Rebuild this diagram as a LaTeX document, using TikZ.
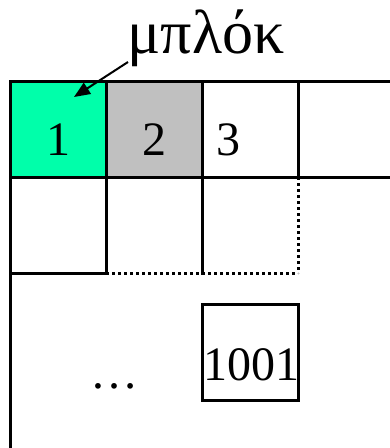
\documentclass[tikz,border=0pt]{standalone}
\usepackage{fontspec}
\setmainfont{Liberation Serif}
\usetikzlibrary{arrows.meta}
\definecolor{blockgreen}{RGB}{0,255,170}
\definecolor{blockgray}{RGB}{192,192,192}
\begin{document}
\begin{tikzpicture}[x=1pt,y=-1pt,
  gridline/.style={line width=3pt,line cap=rect},
  dotline/.style={line width=3pt,dash pattern=on 3pt off 3pt},
  cellbox/.style={minimum width=96pt,minimum height=96pt,inner sep=0pt,draw=none},
  lbl/.style={anchor=base,inner sep=0pt,font=\fontsize{48}{48}\selectfont},
  title/.style={anchor=base,inner sep=0pt,font=\fontsize{62}{62}\selectfont}]
\useasboundingbox (0,0) rectangle (390,448);
% filled cells
\node[cellbox,fill=blockgreen] (c1) at (58,129) {};
\node[cellbox,fill=blockgray] (c2) at (154,129) {};
% grid lines
\draw[gridline] (10,81) -- (390,81);
\draw[gridline] (10,177) -- (390,177);
\draw[gridline] (10,81) -- (10,448);
\draw[gridline] (106,81) -- (106,273);
\draw[gridline] (202,81) -- (202,273);
\draw[gridline] (298,81) -- (298,177);
\draw[gridline] (10,273) -- (106,273);
\draw[dotline] (106,273) -- (298,273);
\draw[dotline] (298,177) -- (298,273);
% box 1001
\node[cellbox,draw,line width=3pt] (b1001) at (250,352.5) {};
% labels
\node[lbl] (t1) at (58,155) {1};
\node[lbl] (t2) at (154,155) {2};
\node[lbl] (t3) at (228,155) {3};
\node[lbl] (t1001) at (251,380) {1001};
\node[lbl] (tdots) at (114,388) {…};
\node[title] (tblock) at (206,53) {μπλόκ};
\coordinate (tail) at (128,62);
\coordinate (tip) at (74,97);
\draw[line width=2pt,-{Triangle[length=16pt,width=13pt]}] (tail) -- (tip);
\end{tikzpicture}
\end{document}
